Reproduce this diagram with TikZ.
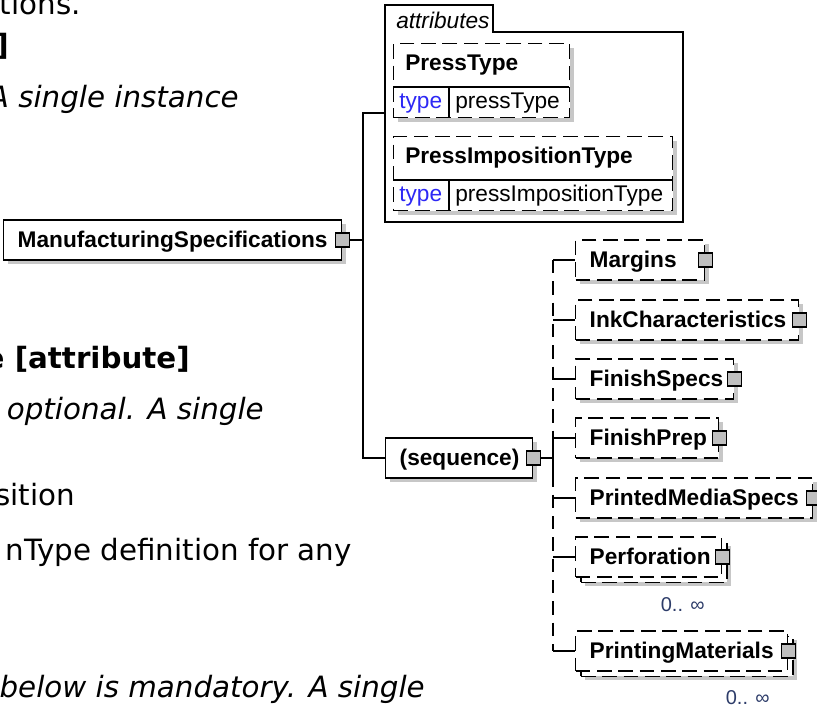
\documentclass[tikz,border=0pt]{standalone}
\usepackage{fontspec}
\setmainfont{Liberation Sans}
\newfontfamily\docfont{DejaVu Sans}[ItalicFont={DejaVu Sans Oblique},BoldFont={DejaVu Sans Bold}]
\usetikzlibrary{shadows,calc}
\definecolor{typeblue}{RGB}{45,40,245}
\definecolor{occblue}{RGB}{45,60,105}
\newcommand{\docsize}{\fontsize{22}{26}\selectfont}
\newcommand{\lblsize}{\fontsize{17}{20}\selectfont}

\begin{document}
\begin{tikzpicture}[x=0.75pt, y=-0.75pt,
    wire/.style={line width=1.1pt},
    elem/.style={draw, fill=white, line width=1.1pt, anchor=west, align=left, minimum height=30pt, inner xsep=10.5pt, inner ysep=0pt, text height=12pt, text depth=1pt, font=\lblsize\bfseries},
    shadowed/.style={drop shadow={shadow xshift=3pt, shadow yshift=-3pt, fill=black!22, draw=none, opacity=1}},
    optbox/.style={dash pattern=on 11pt off 5pt},
    multi/.style={drop shadow={shadow xshift=7pt, shadow yshift=-7pt, fill=black!22, draw=none, opacity=1},
                  copy shadow={shadow xshift=4pt, shadow yshift=-4pt, draw=black, fill=white, dash pattern=on 11pt off 5pt}},
    sq/.style={draw, fill=black!25, line width=1.1pt, minimum size=10.5pt, inner sep=0pt},
    attbox/.style={draw, fill=white, line width=1.1pt, optbox, shadowed, anchor=north west, minimum height=55.5pt, inner sep=0pt},
    attname/.style={anchor=base west, inner sep=0pt, font=\lblsize\bfseries},
    attkey/.style={anchor=base west, inner sep=0pt, text=typeblue, font=\lblsize},
    attval/.style={anchor=base west, inner sep=0pt, font=\lblsize},
    tab/.style={anchor=base west, inner sep=0pt, font=\lblsize\itshape},
    doc/.style={anchor=base east, inner sep=0pt, font=\docfont\docsize},
    docb/.style={doc, font=\docfont\docsize\bfseries},
    doci/.style={doc, font=\docfont\docsize\itshape},
    occ/.style={anchor=base east, inner sep=0pt, text=occblue, font=\fontsize{15}{18}\selectfont}
]
\useasboundingbox (0,0) rectangle (817,707);
\clip (0,0) rectangle (817,707);

\node[doc] (t1) at (81,14) {tions.};
\node[docb] (t2) at (9,55) {]};
\node[doci] (t3) at (239,107) {A single instance};
\node[docb] (t4) at (190,368) {e [attribute]};
\node[doci] (t5) at (264,419) {optional. A single};
\node[doc] (t6) at (75,505) {sition};
\node[doc] (t7) at (352,560) {nType definition for any};
\node[doci] (t8) at (425,697) {below is mandatory. A single};

\node[elem, shadowed, text width=232.5pt] (ms) at (3,240) {ManufacturingSpecifications};
\node[sq] (ms-sq) at (ms.east) {};

\draw[wire] (385,222) -- (385,5) -| (493,32) -| (683,222) -- cycle;
\node[tab] (attrs) at (396,28) {attributes};
\coordinate (attr-in) at (385,113);

\node[attbox, minimum width=132pt] (ptype) at (393,43) {};
\draw[wire] (393,87) -- (569,87) (449,87) -- (449,117);
\node[attname] (ptype-name) at (405,70) {PressType};
\node[attkey] (ptype-key) at (399,108) {type};
\node[attval] (ptype-val) at (455,108) {pressType};

\node[attbox, minimum width=209.25pt] (pimp) at (393,136) {};
\draw[wire] (393,180) -- (672,180) (449,180) -- (449,210);
\node[attname] (pimp-name) at (405,163) {PressImpositionType};
\node[attkey] (pimp-key) at (399,201) {type};
\node[attval] (pimp-val) at (455,201) {pressImpositionType};

\node[elem, shadowed, text width=89.25pt] (seq) at (385,458) {(sequence)};
\node[sq] (seq-sq) at (seq.east) {};

\node[elem, shadowed, optbox, text width=75.75pt] (mar) at (575,260) {Margins};
\node[elem, shadowed, optbox, text width=146.25pt] (ink) at (575,320) {InkCharacteristics};
\node[elem, shadowed, optbox, text width=97.5pt] (fspec) at (575,379) {FinishSpecs};
\node[elem, shadowed, optbox, text width=86.25pt] (fprep) at (575,438) {FinishPrep};
\node[elem, shadowed, optbox, text width=156.75pt] (pmspec) at (575,498) {PrintedMediaSpecs};
\node[elem, multi, optbox, text width=88.5pt] (perf) at (575,557) {Perforation};
\node[occ] (perf-occ) at (705,611) {0.. ∞};
\node[elem, multi, optbox, text width=138pt] (pmat) at (575,651) {PrintingMaterials};
\node[occ] (pmat-occ) at (770,704) {0.. ∞};

\coordinate (j1) at (363,240);
\coordinate (j2) at (553,458);
\draw[wire] (ms-sq.east) -- (j1);
\draw[wire] (attr-in) -| (j1) |- (seq.west);
\draw[wire] (seq-sq.east) -- (j2);
\draw[wire, dash pattern=on 10pt off 6pt] (mar.west -| j2) -- (pmat.west -| j2);
\draw[wire] ($(j2)+(0,-22)$) -- ($(j2)+(0,22)$);
\foreach \n in {mar,ink,fspec,fprep,pmspec,perf,pmat} {
  \node[sq] (\n-sq) at (\n.east) {};
  \draw[wire] (\n.west -| j2) -- (\n.west);
}
\end{tikzpicture}
\end{document}
